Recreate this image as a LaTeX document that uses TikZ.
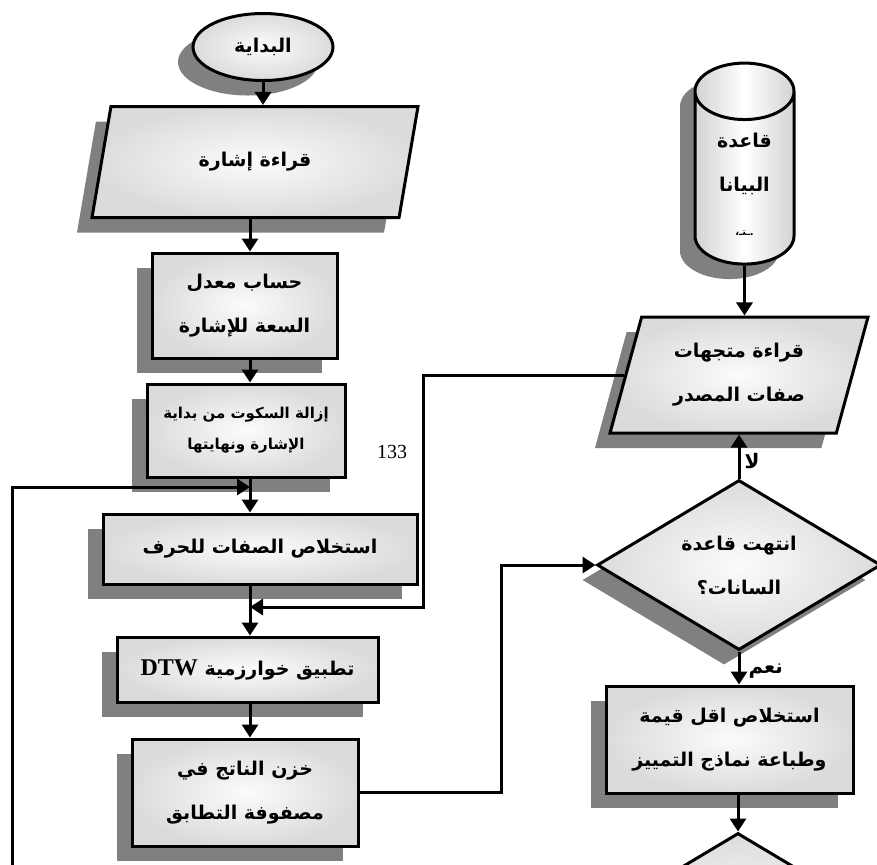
\documentclass[tikz,border=0pt]{standalone}
\usepackage{fontspec}
\newfontfamily\arabicfont[Script=Arabic]{DejaVu Sans}
\newfontfamily\latinfont{Liberation Serif}
\TeXXeTstate=1
\usetikzlibrary{shapes.geometric,shadows,arrows.meta}
\newcommand{\ar}[1]{\beginR #1\endR}

\begin{document}
\begin{tikzpicture}[x=0.5pt,y=-0.5pt]
  \tikzstyle{shd}=[drop shadow={shadow xshift=-7.5pt,shadow yshift=-7.5pt,fill=gray,opacity=1}]
  \tikzstyle{box}=[draw,line width=1.5pt,shade,inner color=gray!3,outer color=gray!28,shd,align=center,inner sep=2pt,font=\arabicfont\bfseries\fontsize{9.5}{22}\selectfont]
  \tikzstyle{lbl}=[font=\arabicfont\bfseries\fontsize{10}{12}\selectfont,inner sep=2pt]
  \tikzstyle{flow}=[line width=1.5pt,-{Triangle[length=6.5pt,width=8pt]}]
  \useasboundingbox (0,0) rectangle (877,864);
  \clip (0,0) rectangle (877,864);
  %left column
  \node[box,ellipse,minimum width=70pt,minimum height=33.5pt] (start) at (263,47) {\ar{البداية}};
  \node[box,trapezium,trapezium left angle=55,trapezium right angle=125,trapezium stretches body,minimum width=163pt,minimum height=55.5pt] (readsig) at (255,162) {\ar{قراءة إشارة}};
  \node[box,rectangle,minimum width=92.5pt,minimum height=52.5pt] (energy) at (244.5,305.5) {\ar{حساب معدل}\\\ar{السعة للإشارة}};
  \node[box,rectangle,minimum width=99pt,minimum height=46.5pt,font=\arabicfont\bfseries\fontsize{7.5}{15.5}\selectfont] (silence) at (246,430.5) {\ar{إزالة السكوت من بداية}\\\ar{الإشارة ونهايتها}};
  \node[font=\latinfont\fontsize{10}{12}\selectfont] (pg) at (392,452) {133};
  \node[box,rectangle,minimum width=157pt,minimum height=35pt] (feat) at (260,549) {\ar{استخلاص الصفات للحرف}};
  \node[box,rectangle,minimum width=130.5pt,minimum height=32.5pt] (dtw) at (247.5,669.5) {\ar{تطبيق خوارزمية \beginL{\latinfont\fontsize{12}{14}\selectfont DTW}\endL}};
  \node[box,rectangle,minimum width=113pt,minimum height=53.5pt] (store) at (245,792.5) {\ar{خزن الناتج في}\\\ar{مصفوفة التطابق}};
  %right column
  \node[box,cylinder,shape border rotate=90,aspect=0.9,minimum width=49.5pt,minimum height=100.5pt,shade,left color=gray!35,right color=gray!35,middle color=white] (db) at (744.5,184) {\ar{قاعدة}\\\ar{البيانا}\\{\fontsize{5}{10}\selectfont\ar{.ـتـ،}}};
  \node[box,trapezium,trapezium left angle=66,trapezium right angle=114,trapezium stretches body,minimum width=129pt,minimum height=58pt] (readsrc) at (739,375) {\ar{قراءة متجهات}\\\ar{صفات المصدر}};
  \node[box,diamond,aspect=1.67,minimum width=142pt,minimum height=85pt] (done) at (739,565) {\ar{انتهت قاعدة}\\\ar{السانات؟}};
  \node[box,rectangle,minimum width=123.5pt,minimum height=53.5pt] (best) at (729.5,739.5) {\ar{استخلاص اقل قيمة}\\\ar{وطباعة نماذج التمييز}};
  \node[box,diamond,aspect=1.67,minimum width=142pt,minimum height=85pt] (next) at (738,918) {};
  %connectors
  \coordinate (colL) at (250,0);
  \coordinate (merge1) at (250,487);
  \coordinate (merge2) at (250,607);
  \coordinate (loopbot) at (12,870);
  \draw[flow] (start) -- (start |- readsig.north);
  \draw[flow] (readsig.south -| colL) -- (energy.north -| colL);
  \draw[flow] (energy.south -| colL) -- (silence.north -| colL);
  \draw[line width=1.5pt] (silence.south -| colL) -- (merge1);
  \draw[flow] (loopbot) |- (merge1);
  \draw[flow] (merge1) -- (feat.north -| colL);
  \draw[line width=1.5pt] (feat.south -| colL) -- (merge2);
  \draw[flow] (readsrc.west) -- ++(-201,0) |- (merge2);
  \draw[flow] (merge2) -- (dtw.north -| colL);
  \draw[flow] (dtw.south -| colL) -- (store.north -| colL);
  \draw[flow] (store.east) -- ++(142,0) |- (done.west);
  \draw[flow] (db) -- (db |- readsrc.north);
  \draw[flow] (done.north) -- (done.north |- readsrc.south) node[lbl,pos=0.4,right] {\ar{لا}};
  \draw[flow] (done.south) -- (done.south |- best.north) node[lbl,pos=0.6,right,xshift=2pt] {\ar{نعم}};
  \draw[flow] (next.north |- best.south) -- (next.north);
\end{tikzpicture}
\end{document}
